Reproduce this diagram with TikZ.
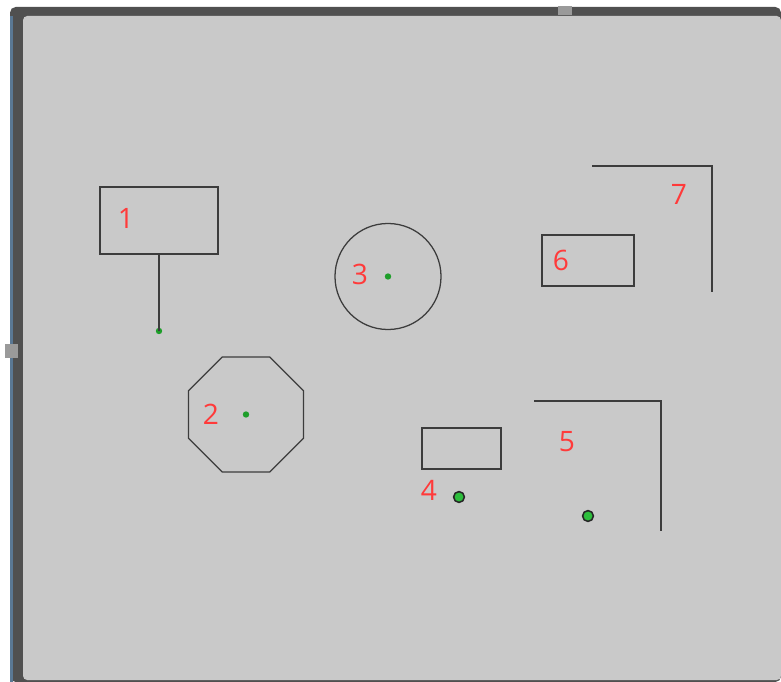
\documentclass[tikz,border=0pt]{standalone}
\usepackage{xcolor}
\usepackage{fontspec}
\usepackage{tikz}
\usetikzlibrary{positioning,calc,shapes.geometric}
\newfontfamily\labelfont{Open Sans}
\definecolor{arenagray}{HTML}{C9C9C9}
\definecolor{framegray}{HTML}{505050}
\definecolor{edgeblue}{HTML}{5A7894}
\definecolor{handlegray}{HTML}{9A9A9A}
\definecolor{wallgray}{HTML}{3C3C3C}
\definecolor{labelred}{HTML}{FF3A3A}
\definecolor{markgreen}{HTML}{1E9E2A}
\definecolor{ringgreen}{HTML}{2DBE3C}

\tikzset{
  obstacle/.style={draw=wallgray, line width=0.9pt, inner sep=0pt},
  tag/.style={text=labelred, font=\labelfont\fontsize{20}{24}\selectfont, inner sep=0pt},
  target/.style={circle, fill=markgreen, inner sep=0pt, minimum size=0.16cm},
  ring/.style={circle, draw=black!85, line width=1.1pt, fill=ringgreen, inner sep=0pt, minimum size=0.27cm}
}

\begin{document}
\begin{tikzpicture}[x=0.025cm, y=-0.025cm]
    \useasboundingbox (0,0) rectangle (781,682);
    % window frame
    \fill[white] (0,0) rectangle (781,682);
    \fill[framegray, rounded corners=4pt] (10,7) rectangle (781,682);
    \fill[edgeblue] (10,16) rectangle (13,682);
    \fill[arenagray, rounded corners=3pt] (23,16) rectangle (781,680);
    \fill[handlegray] (5,344) rectangle (18,358);
    \fill[handlegray] (558,6) rectangle (572,15);

    % obstacle 1 with post
    \node[obstacle, rectangle, minimum width=2.95cm, minimum height=1.675cm] (box1) at (159,220.5) {};
    \node[target] (post1) at (159,331) {};
    \draw[wallgray, line width=0.9pt] (box1.south) -- (post1.center);
    \node[tag] (lab1) at (126,218) {1};

    % obstacle 2
    \node[obstacle, regular polygon, regular polygon sides=8, minimum size=3.11cm] (oct2) at (246,414.5) {};
    \node[target] (dot2) at (oct2.center) {};
    \node[tag] (lab2) at (211,414) {2};

    % obstacle 3
    \node[obstacle, circle, minimum size=2.65cm] (disc3) at (388,276.5) {};
    \node[target] (dot3) at (disc3.center) {};
    \node[tag] (lab3) at (360,274) {3};

    % obstacle 4
    \node[obstacle, rectangle, minimum width=1.975cm, minimum height=1.025cm] (box4) at (461.5,448.5) {};
    \node[ring] (dot4) at (459,497) {};
    \node[tag] (lab4) at (429,490) {4};

    % wall 5
    \coordinate (w5a) at (534,401);
    \coordinate (w5b) at (661,401);
    \coordinate (w5c) at (661,531);
    \draw[wallgray, line width=0.9pt] (w5a) -- (w5b) -- (w5c);
    \node[ring] (dot5) at (588,516) {};
    \node[tag] (lab5) at (567,442) {5};

    % obstacle 6
    \node[obstacle, rectangle, minimum width=2.3cm, minimum height=1.275cm] (box6) at (588,260.5) {};
    \node[tag] (lab6) at (561,260) {6};

    % wall 7
    \coordinate (w7a) at (592,166);
    \coordinate (w7b) at (712,166);
    \coordinate (w7c) at (712,292);
    \draw[wallgray, line width=0.9pt] (w7a) -- (w7b) -- (w7c);
    \node[tag] (lab7) at (679,194) {7};
  \end{tikzpicture}
\end{document}
